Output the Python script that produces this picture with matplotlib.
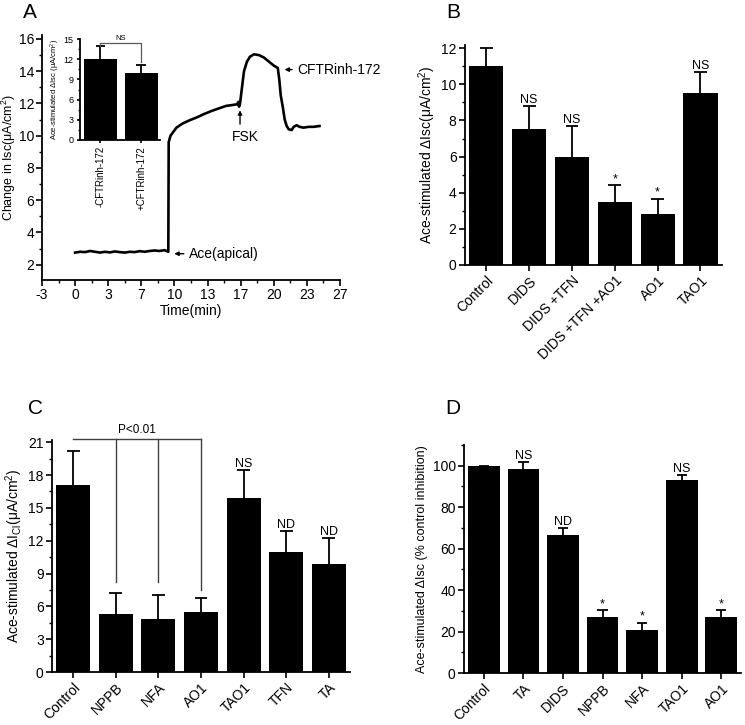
import numpy as np
import matplotlib
matplotlib.use("Agg")
import matplotlib.pyplot as plt
import matplotlib.transforms as mtrans
from matplotlib.ticker import FixedLocator, MultipleLocator, AutoMinorLocator

plt.rcParams['font.family'] = ['Liberation Sans', 'DejaVu Sans']
plt.rcParams['mathtext.fontset'] = 'custom'
plt.rcParams['mathtext.rm'] = 'Liberation Sans'
plt.rcParams['mathtext.it'] = 'Liberation Sans:italic'
plt.rcParams['mathtext.default'] = 'regular'

# ---- data: panel A trace ----
a_time = [0, 0.5, 1, 1.5, 2, 2.5, 3, 3.5, 4, 4.5, 5, 5.5, 6, 6.5, 7, 7.5, 8, 8.5, 9, 9.3,
          9.38, 9.42, 9.6, 10.2, 10.8, 11.5, 12.3, 13.0, 13.8, 14.5, 15.2, 15.8, 16.3,
          16.45, 16.5, 16.6, 16.8, 17.0, 17.3, 17.6, 18.0, 18.5, 19.0, 19.5, 20.0, 20.4,
          20.55, 20.7, 20.9, 21.1, 21.3, 21.5, 21.8, 22.0, 22.3, 22.6, 23.0, 23.5, 24.0, 24.6]
a_isc = [2.75, 2.8, 2.78, 2.85, 2.8, 2.75, 2.8, 2.76, 2.82, 2.78, 2.75, 2.8, 2.78, 2.84,
         2.8, 2.85, 2.88, 2.85, 2.9, 2.82,
         2.8, 9.6, 10.0, 10.5, 10.75, 10.95, 11.15, 11.35, 11.55, 11.7, 11.85, 11.9, 11.95,
         12.1, 11.8, 12.0, 13.0, 14.0, 14.6, 14.9, 15.05, 15.0, 14.85, 14.6, 14.35, 14.2,
         13.5, 12.5, 11.8, 11.0, 10.6, 10.4, 10.35, 10.55, 10.65, 10.55, 10.5, 10.55, 10.55, 10.6]
a_xtick_labels = ['-3', '0', '3', '7', '10', '13', '17', '20', '23', '27']

# inset
inset_groups = ['-CFTRinh-172', '+CFTRinh-172']
inset_vals = [12.0, 10.0]
inset_err = [2.0, 1.1]

# panel B
b_groups = ['Control', 'DIDS', 'DIDS +TFN', 'DIDS +TFN +AO1', 'AO1', 'TAO1']
b_vals = [11.0, 7.5, 6.0, 3.5, 2.85, 9.5]
b_err = [1.0, 1.3, 1.7, 0.9, 0.82, 1.2]
b_marks = ['', 'NS', 'NS', '*', '*', 'NS']

# panel C
c_groups = ['Control', 'NPPB', 'NFA', 'AO1', 'TAO1', 'TFN', 'TA']
c_vals = [17.1, 5.3, 4.8, 5.5, 15.9, 11.0, 9.9]
c_err = [3.1, 1.9, 2.2, 1.3, 2.6, 1.9, 2.3]
c_marks = ['', '', '', '', 'NS', 'ND', 'ND']

# panel D
d_groups = ['Control', 'TA', 'DIDS', 'NPPB', 'NFA', 'TAO1', 'AO1']
d_vals = [100, 98.5, 66.8, 27.0, 20.9, 93.3, 27.0]
d_err = [0, 3.2, 3.2, 3.2, 3.3, 2.4, 3.2]
d_marks = ['', 'NS', 'ND', '*', '*', 'NS', '*']


def style(ax, size=10):
    for s in ['top', 'right']:
        ax.spines[s].set_visible(False)
    for s in ['left', 'bottom']:
        ax.spines[s].set_linewidth(1.3)
    ax.tick_params(direction='out', length=4, width=1.2, labelsize=size, pad=2)
    ax.tick_params(which='minor', direction='out', length=2.5, width=1.0)


def bars(ax, groups, vals, err, marks, cap=0.15, fs=9, inset=False):
    x = np.arange(len(groups))
    ax.bar(x, vals, width=0.8, color='black')
    tops = np.array(vals) + np.array(err)
    ax.vlines(x, vals, tops, color='black', lw=1.3)
    ax.hlines(tops, x - cap, x + cap, color='black', lw=1.3)
    for xi, t, m in zip(x, tops, marks):
        if m:
            ax.text(xi, t, m, ha='center', va='bottom', fontsize=fs)
    ax.set_xticks(x)
    if inset:
        ax.set_xticklabels(groups, rotation=90, ha='center', va='top')
    else:
        ax.set_xticklabels(groups, rotation=45, ha='right', rotation_mode='anchor')
        off = mtrans.ScaledTranslation(0.09, 0, fig.dpi_scale_trans)
        for lab in ax.get_xticklabels():
            lab.set_transform(lab.get_transform() + off)
    ax.set_xlim(-0.5, len(groups) - 0.5)


fig = plt.figure(figsize=(7.45, 7.25), dpi=100)

# ---- A ----
axA = fig.add_axes([0.0564, 0.6138, 0.400, 0.338])
axA.plot(a_time, a_isc, color='black', lw=1.9)
axA.set_xlim(-10 / 3, 80 / 3)
axA.set_ylim(1.05, 16.25)
axA.xaxis.set_major_locator(FixedLocator(np.linspace(-10 / 3, 80 / 3, 10)))
axA.set_xticklabels(a_xtick_labels)
axA.xaxis.set_minor_locator(AutoMinorLocator(2))
axA.yaxis.set_major_locator(MultipleLocator(2))
axA.yaxis.set_minor_locator(MultipleLocator(1))
style(axA)
axA.tick_params(axis='y', pad=1.5)
axA.set_xlabel('Time(min)', fontsize=10, labelpad=1)
axA.set_ylabel('Change in Isc(μA/cm$^{2}$)', fontsize=9)
axA.yaxis.set_label_coords(-0.08, 0.5)
arr = dict(arrowstyle='-|>', color='black', lw=1.0, mutation_scale=6)
axA.annotate('Ace(apical)', xy=(9.7, 2.68), xytext=(11.5, 2.68), fontsize=10,
             va='center', ha='left', arrowprops=arr)
axA.text(17.1, 9.9, 'FSK', fontsize=10, va='center', ha='center')
axA.annotate('', xy=(16.6, 11.75), xytext=(16.6, 10.55), arrowprops=arr)
axA.annotate('CFTRinh-172', xy=(20.8, 14.1), xytext=(22.4, 14.1), fontsize=10,
             va='center', ha='left', arrowprops=arr, annotation_clip=False)

# inset
axI = fig.add_axes([0.1074, 0.807, 0.107, 0.139])
bars(axI, inset_groups, inset_vals, inset_err, ['', ''], cap=0.12, inset=True)
axI.set_xlim(-0.5, 1.45)
axI.set_ylim(0, 15)
axI.yaxis.set_major_locator(MultipleLocator(3))
axI.yaxis.set_minor_locator(MultipleLocator(1.5))
style(axI, size=6.5)
axI.tick_params(axis='x', labelsize=7)
axI.tick_params(length=2.5)
axI.tick_params(which='minor', length=1.5)
axI.set_ylabel('Ace-stimulated ΔIsc (μA/cm$^{2}$)', fontsize=5.5, labelpad=1)
axI.plot([0, 0, 1, 1], [14.0, 14.4, 14.4, 11.6], color='0.35', lw=0.9, clip_on=False)
axI.text(0.5, 14.6, 'NS', ha='center', va='bottom', fontsize=5.5)

# ---- B ----
axB = fig.add_axes([0.624, 0.6345, 0.345, 0.304])
bars(axB, b_groups, b_vals, b_err, b_marks)
axB.set_ylim(0, 12.2)
axB.yaxis.set_major_locator(MultipleLocator(2))
axB.yaxis.set_minor_locator(MultipleLocator(1))
style(axB)
axB.set_ylabel('Ace-stimulated ΔIsc(μA/cm$^{2}$)', fontsize=10, labelpad=2)

# ---- C ----
axC = fig.add_axes([0.0698, 0.0731, 0.400, 0.320])
bars(axC, c_groups, c_vals, c_err, c_marks)
axC.set_ylim(0, 21.2)
axC.yaxis.set_major_locator(MultipleLocator(3))
axC.yaxis.set_minor_locator(MultipleLocator(1.5))
style(axC)
axC.set_ylabel('Ace-stimulated ΔI$_{Cl}$(μA/cm$^{2}$)', fontsize=10, labelpad=2)
axC.plot([0, 3], [21.3, 21.3], color='0.25', lw=1.0, clip_on=False)
for xi, yb in zip([1, 2, 3], [8.2, 8.2, 7.5]):
    axC.plot([xi, xi], [21.3, yb], color='0.25', lw=1.0, clip_on=False)
axC.text(1.5, 21.6, 'P<0.01', ha='center', va='bottom', fontsize=8.5)

# ---- D ----
axD = fig.add_axes([0.6228, 0.0717, 0.372, 0.3145])
bars(axD, d_groups, d_vals, d_err, d_marks, cap=0.13)
axD.set_ylim(0, 110)
axD.set_yticks([0, 20, 40, 60, 80, 100])
axD.yaxis.set_minor_locator(MultipleLocator(10))
style(axD)
axD.set_ylabel('Ace-stimulated ΔIsc (% control inhibition)', fontsize=9, labelpad=3)

# panel letters
fig.text(0.040, 0.983, 'A', fontsize=15, va='center', ha='center')
fig.text(0.608, 0.983, 'B', fontsize=15, va='center', ha='center')
fig.text(0.048, 0.437, 'C', fontsize=15, va='center', ha='center')
fig.text(0.608, 0.436, 'D', fontsize=15, va='center', ha='center')

fig.savefig('out.png', dpi=100)
